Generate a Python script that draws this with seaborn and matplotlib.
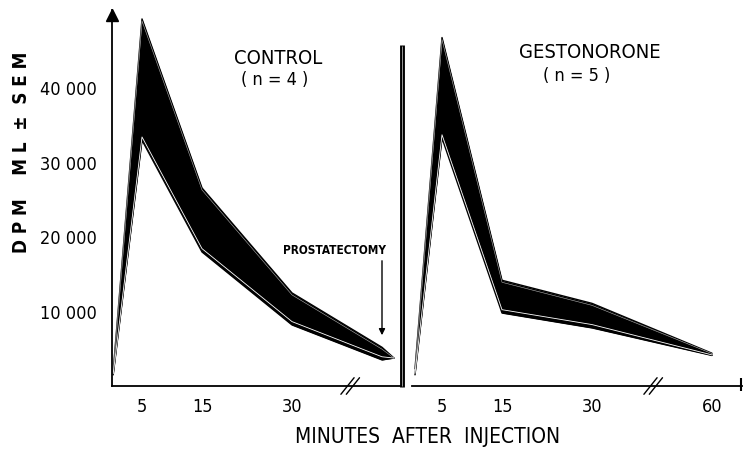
import numpy as np
import pandas as pd
import seaborn as sns
import matplotlib
matplotlib.use("Agg")
import matplotlib.pyplot as plt
from matplotlib.lines import Line2D
import matplotlib.transforms as mtransforms

# values (DPM/ml, upper and lower edge of the +-SEM band)
ctrl_min = [0.2, 5, 15, 30, 55, 57]
ctrl_upper = [2000, 49300, 26600, 12500, 5200, 3750]
ctrl_lower = [1500, 33000, 18000, 8200, 3500, 3750]

gest_min = [0.5, 5, 15, 30, 60]
gest_upper = [2300, 46800, 14200, 11100, 4400]
gest_lower = [1500, 33300, 9800, 7800, 4100]

ctrl_ticks = [5, 15, 30]
gest_ticks = [5, 15, 30, 60]
y_ticks = [10000, 20000, 30000, 40000]
y_labels = ["10 000", "20 000", "30 000", "40 000"]


def axis_pos(t):
    # broken time axis: after 40 min everything is pulled 10 min to the left
    t = np.asarray(t, dtype=float)
    return np.where(t > 40, t - 10, t)


def band_frame(minutes, upper, lower):
    pos = axis_pos(minutes)
    return pd.DataFrame({
        "pos": np.concatenate([pos, pos]),
        "value": np.concatenate([upper, lower]),
        "edge": ["upper"] * len(pos) + ["lower"] * len(pos),
    })


sns.set_style("white")
plt.rcParams["font.family"] = ["DejaVu Sans"]
plt.rcParams["font.stretch"] = "condensed"
plt.rcParams["text.color"] = "black"
plt.rcParams["xtick.color"] = "black"
plt.rcParams["ytick.color"] = "black"
plt.rcParams["axes.edgecolor"] = "black"

W, H = 743, 450
fig = plt.figure(figsize=(W / 100, H / 100), dpi=100)


def fx(px):
    return px / W


def fy(py):
    return 1 - py / H


ax1 = fig.add_axes([fx(112), fy(386), (400 - 112) / W, (386 - 10) / H])
ax2 = fig.add_axes([fx(412), fy(386), (742 - 412) / W, (386 - 10) / H])
ax1.set_xlim(0, 48)
ax2.set_xlim(0, 55)
for ax in (ax1, ax2):
    ax.set_ylim(0, 50500)
    ax.set_facecolor("white")


def draw_band(ax, minutes, upper, lower):
    df = band_frame(minutes, upper, lower)
    pos = axis_pos(minutes)
    up = np.array(upper, float)
    lo = np.array(lower, float)
    ax.fill_between(pos, lo, up, color="black", lw=0)
    sns.lineplot(data=df, x="pos", y="value", units="edge", estimator=None,
                 color="black", lw=1.0, ax=ax, legend=False)
    off = np.minimum(450, (up - lo) / 4)
    ax.plot(pos, lo + off, color="white", lw=0.6)
    ax.plot(pos, up - off * 0.6, color="white", lw=0.4, alpha=0.7)


draw_band(ax1, ctrl_min, ctrl_upper, ctrl_lower)
draw_band(ax2, gest_min, gest_upper, gest_lower)

for ax in (ax1, ax2):
    ax.set_xlabel("")
    ax.set_ylabel("")
    ax.spines["top"].set_visible(False)
    ax.spines["right"].set_visible(False)
    ax.spines["bottom"].set_linewidth(1.3)
    ax.tick_params(axis="x", direction="out", length=4, width=1,
                   labelsize=13, pad=5)

ax1.spines["left"].set_linewidth(1.3)
ax2.spines["left"].set_visible(False)

ax1.set_xticks(axis_pos(ctrl_ticks), [str(t) for t in ctrl_ticks])
ax2.set_xticks(axis_pos(gest_ticks), [str(t) for t in gest_ticks])
ax1.set_yticks(y_ticks, y_labels)
ax1.tick_params(axis="y", direction="out", length=4, width=1, labelsize=13, pad=7)
ax2.set_yticks([])

# arrow head on the y axis
ax1.plot(0, 49800, marker="^", ms=9, color="black", clip_on=False)

# axis break marks
for ax, x0 in ((ax1, 39.7), (ax2, 40.2)):
    tr = mtransforms.blended_transform_factory(ax.transData, ax.transAxes)
    ax.plot([x0 - 0.6, x0 + 0.6], [-0.02, 0.02], color="white", lw=5,
            transform=tr, clip_on=False, solid_capstyle="butt")
    for dx in (-0.45, 0.45):
        ax.plot([x0 + dx - 1.1, x0 + dx + 1.1], [-0.022, 0.022], color="black",
                lw=1, transform=tr, clip_on=False)

# separator between panels and right end of the axis
fig.add_artist(Line2D([fx(402), fx(402)], [fy(45), fy(387)], lw=3.5,
                      color="black", solid_capstyle="butt"))
fig.add_artist(Line2D([fx(402), fx(402)], [fy(46), fy(386)], lw=0.7,
                      color="#999999", solid_capstyle="butt"))
fig.add_artist(Line2D([fx(741), fx(741)], [fy(378), fy(391)], lw=1.5,
                      color="black", solid_capstyle="butt"))

# texts
fig.text(fx(278), fy(58), "CONTROL", ha="center", va="center", fontsize=14.5)
fig.text(fx(275), fy(80), "( n = 4 )", ha="center", va="center", fontsize=13)
fig.text(fx(590), fy(52), "GESTONORONE", ha="center", va="center", fontsize=14.5)
fig.text(fx(577), fy(76), "( n = 5 )", ha="center", va="center", fontsize=13)
fig.text(fx(334), fy(250), "PROSTATECTOMY", ha="center", va="center",
         fontsize=8.5, fontweight="bold")
fig.add_artist(matplotlib.patches.FancyArrowPatch(
    (fx(382), fy(258)), (fx(382), fy(338)), transform=fig.transFigure,
    arrowstyle="-|>", mutation_scale=9, color="black", lw=1))

fig.text(fx(428), fy(437), "MINUTES  AFTER  INJECTION", ha="center", va="center",
         fontsize=15)
fig.text(fx(22), fy(152), "D P M    M L  ±  S E M", ha="center", va="center",
         rotation=90, fontsize=13.5, fontweight="bold")

fig.savefig("out.png", dpi=100)
